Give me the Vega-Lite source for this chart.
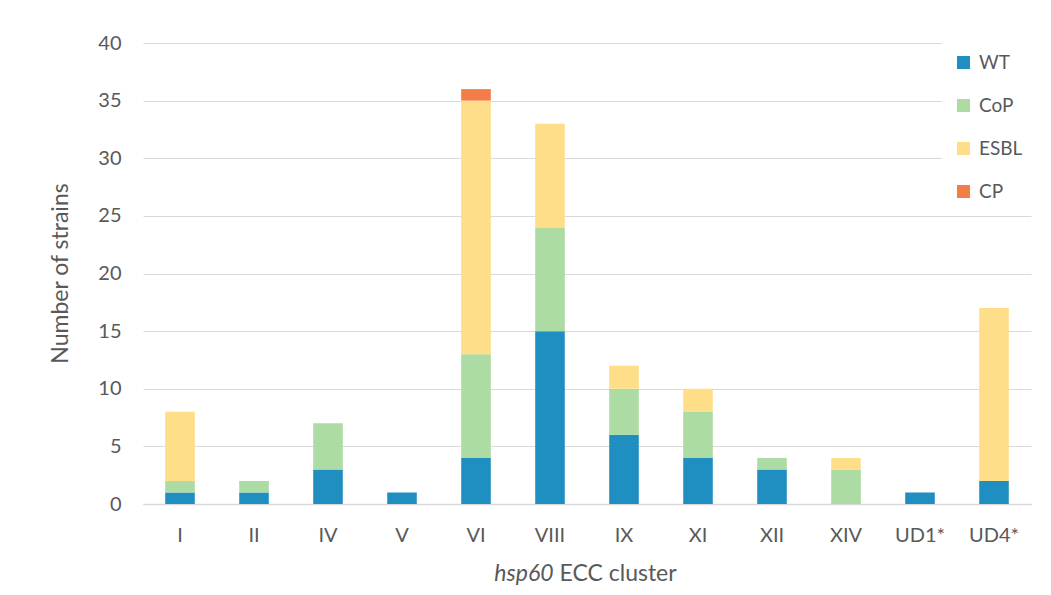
{
  "$schema": "https://vega.github.io/schema/vega-lite/v6.json",
  "width": 888,
  "height": 461,
  "autosize": "none",
  "padding": {"left": 143, "top": 43, "right": 20, "bottom": 91},
  "background": "white",
  "config": {
    "font": "Lato",
    "view": {"stroke": null},
    "axis": {"labelColor": "#595959", "titleColor": "#595959", "labelFont": "Lato", "titleFont": "Lato", "titleFontWeight": "normal"}
  },
  "data": {
    "values": [
      {"cluster": "I", "type": "WT", "count": 1},
      {"cluster": "I", "type": "CoP", "count": 1},
      {"cluster": "I", "type": "ESBL", "count": 6},
      {"cluster": "II", "type": "WT", "count": 1},
      {"cluster": "II", "type": "CoP", "count": 1},
      {"cluster": "IV", "type": "WT", "count": 3},
      {"cluster": "IV", "type": "CoP", "count": 4},
      {"cluster": "V", "type": "WT", "count": 1},
      {"cluster": "VI", "type": "WT", "count": 4},
      {"cluster": "VI", "type": "CoP", "count": 9},
      {"cluster": "VI", "type": "ESBL", "count": 22},
      {"cluster": "VI", "type": "CP", "count": 1},
      {"cluster": "VIII", "type": "WT", "count": 15},
      {"cluster": "VIII", "type": "CoP", "count": 9},
      {"cluster": "VIII", "type": "ESBL", "count": 9},
      {"cluster": "IX", "type": "WT", "count": 6},
      {"cluster": "IX", "type": "CoP", "count": 4},
      {"cluster": "IX", "type": "ESBL", "count": 2},
      {"cluster": "XI", "type": "WT", "count": 4},
      {"cluster": "XI", "type": "CoP", "count": 4},
      {"cluster": "XI", "type": "ESBL", "count": 2},
      {"cluster": "XII", "type": "WT", "count": 3},
      {"cluster": "XII", "type": "CoP", "count": 1},
      {"cluster": "XIV", "type": "CoP", "count": 3},
      {"cluster": "XIV", "type": "ESBL", "count": 1},
      {"cluster": "UD1*", "type": "WT", "count": 1},
      {"cluster": "UD4*", "type": "WT", "count": 2},
      {"cluster": "UD4*", "type": "ESBL", "count": 15}
    ]
  },
  "layer": [
    {
      "transform": [
        {"calculate": "indexof(['WT', 'CoP', 'ESBL', 'CP'], datum.type)", "as": "stackOrder"}
      ],
      "mark": {"type": "bar"},
      "encoding": {
        "x": {
          "field": "cluster",
          "type": "nominal",
          "sort": ["I", "II", "IV", "V", "VI", "VIII", "IX", "XI", "XII", "XIV", "UD1*", "UD4*"],
          "scale": {"paddingInner": 0.6, "paddingOuter": 0.3},
          "axis": {
            "title": "ECC cluster",
            "titleFontSize": 23,
            "titleX": 416,
            "titleY": 69,
            "titleAlign": "left",
            "titleBaseline": "middle",
            "labelAngle": 0,
            "labelFontSize": 20,
            "labelPadding": 21,
            "ticks": false,
            "domainColor": "#d9d9d9",
            "domainWidth": 1.5
          }
        },
        "y": {
          "field": "count",
          "type": "quantitative",
          "stack": "zero",
          "scale": {"domain": [0, 40]},
          "axis": {
            "title": "Number of strains",
            "titleFontSize": 23,
            "titleX": -83,
            "titleY": 230,
            "titleAlign": "center",
            "titleBaseline": "middle",
            "values": [0, 5, 10, 15, 20, 25, 30, 35, 40],
            "labelFontSize": 20,
            "labelPadding": 22,
            "ticks": false,
            "domain": false,
            "gridColor": "#d9d9d9",
            "gridWidth": 1
          }
        },
        "color": {
          "field": "type",
          "type": "nominal",
          "sort": ["WT", "CoP", "ESBL", "CP"],
          "scale": {"domain": ["WT", "CoP", "ESBL", "CP"], "range": ["#1f8fc1", "#acdca3", "#fede89", "#f47c47"]},
          "legend": {
            "title": null,
            "orient": "none",
            "legendX": 799,
            "legendY": -2,
            "padding": 12,
            "fillColor": "white",
            "rowPadding": 23,
            "symbolType": "square",
            "symbolSize": 169,
            "symbolStrokeWidth": 0,
            "labelFontSize": 19,
            "labelColor": "#595959",
            "labelOffset": 6
          }
        },
        "order": {"field": "stackOrder", "type": "quantitative", "sort": "ascending"}
      }
    },
    {
      "mark": {"type": "tick", "opacity": 0},
      "encoding": {
        "x": {
          "field": "cluster",
          "type": "nominal",
          "sort": ["I", "II", "IV", "V", "VI", "VIII", "IX", "XI", "XII", "XIV", "UD1*", "UD4*"],
          "axis": {
            "orient": "bottom",
            "title": "hsp60",
            "titleFontSize": 23,
            "titleFontStyle": "italic",
            "titleX": 410,
            "titleY": 69,
            "titleAlign": "right",
            "titleBaseline": "middle",
            "labels": false,
            "ticks": false,
            "domain": false,
            "grid": false
          }
        }
      }
    }
  ],
  "resolve": {"scale": {"x": "independent"}, "axis": {"x": "independent"}}
}
